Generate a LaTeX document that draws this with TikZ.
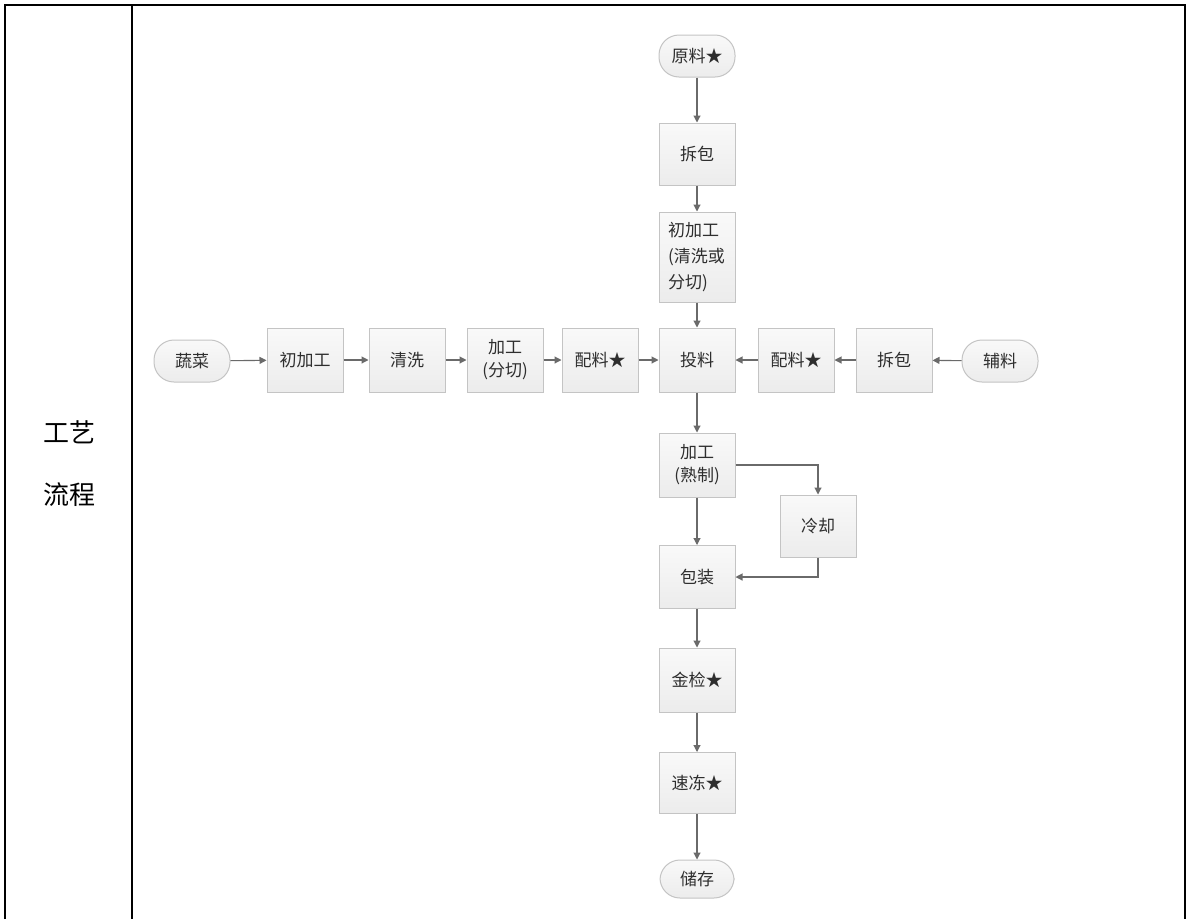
\documentclass[tikz,border=0pt]{standalone}
\usepackage{fontspec}
\setmainfont{Noto Sans CJK SC}
\usetikzlibrary{arrows.meta}
\definecolor{boxline}{HTML}{C4C4C4}
\definecolor{boxtop}{HTML}{F9F9F9}
\definecolor{boxbot}{HTML}{ECECEC}
\definecolor{linec}{HTML}{6A6A6A}
\definecolor{txt}{HTML}{2E2E2E}
\tikzset{
  procbox/.style={draw=boxline, line width=1pt, top color=boxtop, bottom color=boxbot,
    minimum width=76pt, minimum height=62pt, inner sep=1pt, align=center, text=txt,
    font=\fontsize{17}{23}\selectfont},
  termbox/.style={procbox, rounded corners=20pt, minimum height=42pt},
  flowarr/.style={draw=linec, line width=1.1pt, -{Triangle[length=7pt,width=7pt]}},
  tableline/.style={draw=black, line width=1.4pt},
  celltext/.style={font=\fontsize{26}{30}\selectfont, text=black}
}
\begin{document}
\begin{tikzpicture}[x=1pt,y=-1pt]
\useasboundingbox (0,0) rectangle (1186,919);
\fill[white] (0,0) rectangle (1186,919);
% table
\draw[tableline] (5,919) -- (5,5) -- (1185,5) -- (1185,919);
\draw[tableline] (132,5) -- (132,919);
\node[celltext] (t1) at (69,432) {工艺};
\node[celltext] (t2) at (69,495) {流程};
% vertical chain
\node[termbox] (yl) at (697,56) {原料★};
\node[procbox] (cb1) at (697,154) {拆包};
\node[procbox, minimum height=90pt, text width=58pt, align=left, font=\fontsize{17}{26}\selectfont] (cjg) at (697,257) {初加工\\(清洗或\\分切)};
% horizontal row
\node[termbox] (sc) at (192,361) {蔬菜};
\node[procbox, minimum height=64pt] (cjg2) at (305,360) {初加工};
\node[procbox, minimum height=64pt] (qx) at (407,360) {清洗};
\node[procbox, minimum height=64pt] (jgfq) at (505,360) {加工\\(分切)};
\node[procbox, minimum height=64pt] (pl1) at (600,360) {配料★};
\node[procbox, minimum height=64pt] (tl) at (697,360) {投料};
\node[procbox, minimum height=64pt] (pl2) at (796,360) {配料★};
\node[procbox, minimum height=64pt] (cb2) at (894,360) {拆包};
\node[termbox] (fl) at (1000,361) {辅料};
% lower chain
\node[procbox, minimum height=64pt] (jgsz) at (697,465) {加工\\(熟制)};
\node[procbox] (lq) at (818,526) {冷却};
\node[procbox, minimum height=63pt] (bz) at (697,577) {包装};
\node[procbox, minimum height=64pt] (jj) at (697,680) {金检★};
\node[procbox, minimum height=61pt] (sd) at (697,783) {速冻★};
\node[termbox, minimum height=38pt, minimum width=74pt] (cc) at (697,879) {储存};
% connectors
\draw[flowarr] (yl) -- (cb1);
\draw[flowarr] (cb1) -- (cjg);
\draw[flowarr] (cjg) -- (tl);
\draw[flowarr] (sc) -- (cjg2);
\draw[flowarr] (cjg2) -- (qx);
\draw[flowarr] (qx) -- (jgfq);
\draw[flowarr] (jgfq) -- (pl1);
\draw[flowarr] (pl1) -- (tl);
\draw[flowarr] (fl) -- (cb2);
\draw[flowarr] (cb2) -- (pl2);
\draw[flowarr] (pl2) -- (tl);
\draw[flowarr] (tl) -- (jgsz);
\draw[flowarr] (jgsz) -- (bz);
\draw[flowarr] (jgsz.east) -| (lq.north);
\draw[flowarr] (lq.south) |- (bz.east);
\draw[flowarr] (bz) -- (jj);
\draw[flowarr] (jj) -- (sd);
\draw[flowarr] (sd) -- (cc);
\end{tikzpicture}
\end{document}
